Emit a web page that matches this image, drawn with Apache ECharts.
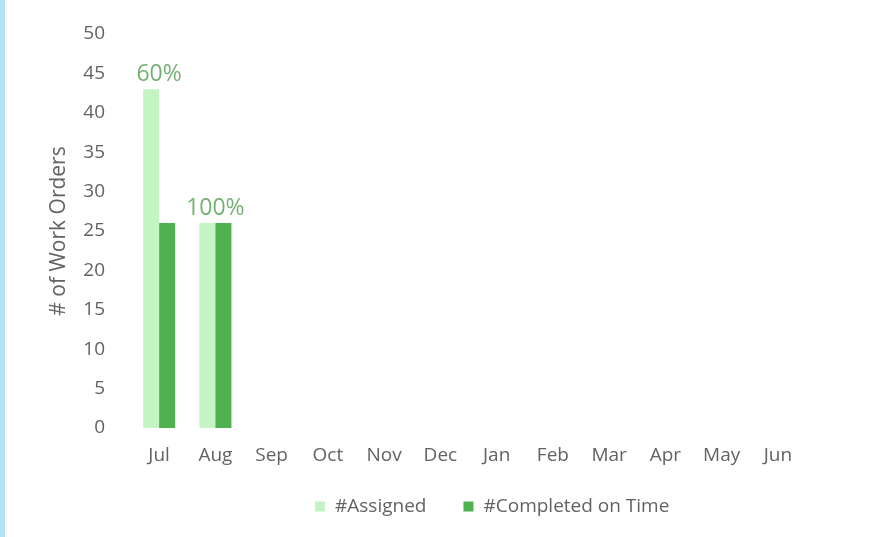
<!DOCTYPE html>
<html>
<head>
<meta charset="utf-8">
<script src="https://cdn.jsdelivr.net/npm/echarts@6/dist/echarts.min.js"></script>
<style>
  html, body { margin: 0; padding: 0; background: #fff; }
  #chart { width: 885px; height: 537px; box-sizing: border-box; border-left: 5px solid #b3e1f7; }
</style>
</head>
<body>
<div id="chart"></div>
<script>
const months = ['Jul', 'Aug', 'Sep', 'Oct', 'Nov', 'Dec', 'Jan', 'Feb', 'Mar', 'Apr', 'May', 'Jun']
const assigned = [43, 26, null, null, null, null, null, null, null, null, null, null]
const completed = [26, 26, null, null, null, null, null, null, null, null, null, null]
const pctLabels = ['60%', '100%']

const textColor = '#626262'
const font = '"Open Sans", sans-serif'

// percent labels sit above the taller bar of each month
const labelPoints = pctLabels.map((t, i) => ({
  value: Math.max(assigned[i] || 0, completed[i] || 0),
  label: { formatter: t }
}))

const chart = echarts.init(document.getElementById('chart'))
chart.setOption({
  animation: false,
  textStyle: { fontFamily: font },
  grid: { left: 126, right: 79, top: 34, bottom: 109, containLabel: false },
  legend: {
    top: 492,
    left: 305,
    icon: 'rect',
    itemWidth: 10,
    itemHeight: 10,
    itemGap: 37,
    textStyle: { color: textColor, fontSize: 19, fontFamily: font, padding: [0, 0, 0, 5] },
    data: ['#Assigned', '#Completed on Time']
  },
  xAxis: {
    type: 'category',
    data: months,
    axisLine: { show: false },
    axisTick: { show: false },
    axisLabel: { color: textColor, fontSize: 19, margin: 18 }
  },
  yAxis: {
    type: 'value',
    min: 0,
    max: 50,
    interval: 5,
    name: '# of Work Orders',
    nameLocation: 'middle',
    nameGap: 61,
    nameTextStyle: { color: textColor, fontSize: 21 },
    splitLine: { show: false },
    axisLine: { show: false },
    axisLabel: { color: textColor, fontSize: 19, margin: 26 }
  },
  series: [
    {
      name: '#Assigned',
      type: 'bar',
      data: assigned,
      barGap: '0%',
      barCategoryGap: '43%',
      itemStyle: { color: '#c4f4c4' }
    },
    {
      name: '#Completed on Time',
      type: 'bar',
      data: completed,
      itemStyle: { color: '#50b150' }
    },
    {
      name: 'pct',
      type: 'scatter',
      data: labelPoints,
      symbolSize: 0,
      silent: true,
      label: {
        show: true,
        position: 'top',
        distance: 3,
        color: '#4f9d4f',
        fontSize: 23
      }
    }
  ]
})
</script>
</body>
</html>
